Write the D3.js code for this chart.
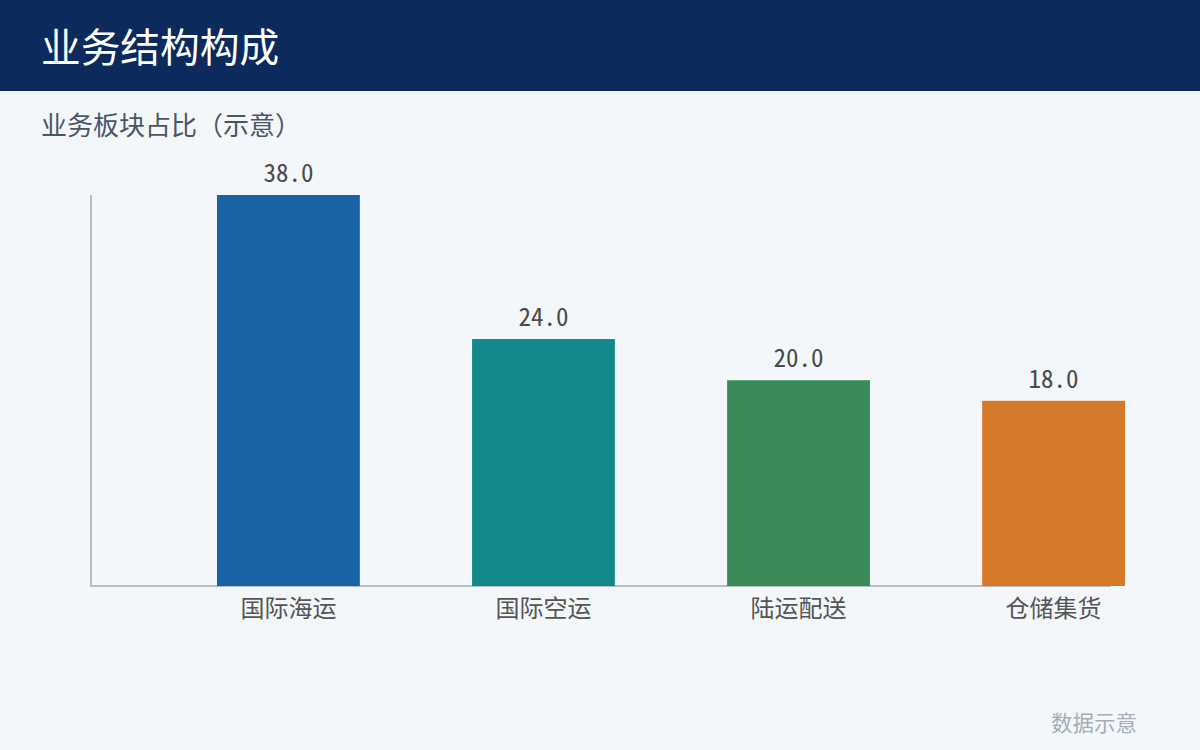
<!DOCTYPE html>
<html>
<head>
<meta charset="utf-8">
<script src="https://cdn.jsdelivr.net/npm/d3@7"></script>
<style>
  html, body { margin: 0; padding: 0; background: #f4f7fa; }
  svg { display: block; font-family: "Noto Sans CJK SC", "Noto Sans", sans-serif; }
</style>
</head>
<body>
<script>
var categories = ["国际海运", "国际空运", "陆运配送", "仓储集货"];
var values = [38, 24, 20, 18];
var barColors = ["#1763a3", "#128a8c", "#3a8b5a", "#d67829"];
var titleText = "业务结构构成";
var subtitleText = "业务板块占比（示意）";
var footText = "数据示意";

var width = 1200, height = 750;

var svg = d3.select("body").append("svg")
  .attr("width", width)
  .attr("height", height);

svg.append("rect")
  .attr("width", width).attr("height", height)
  .attr("fill", "#f4f7fa");

// header band
svg.append("rect")
  .attr("width", width).attr("height", 91)
  .attr("fill", "#0c2a5c");

svg.append("text")
  .attr("x", 41).attr("y", 62)
  .attr("fill", "#ffffff")
  .attr("font-size", 39.7)
  .text(titleText);

svg.append("text")
  .attr("x", 41).attr("y", 135)
  .attr("fill", "#4a5568")
  .attr("font-size", 26)
  .text(subtitleText);

var axisLeft = 91, axisRight = 1111, baseY = 586, topY = 195;

var x = d3.scaleBand()
  .domain(categories)
  .range([217, 1125])
  .paddingInner(0.44)
  .paddingOuter(0);

var y = d3.scaleLinear()
  .domain([0, d3.max(values)])
  .range([baseY, topY]);

// axes lines
svg.append("line")
  .attr("x1", axisLeft).attr("x2", axisLeft)
  .attr("y1", y(d3.max(values))).attr("y2", baseY + 1)
  .attr("stroke", "#b4bec8").attr("stroke-width", 2);

svg.append("line")
  .attr("x1", axisLeft).attr("x2", axisRight)
  .attr("y1", baseY).attr("y2", baseY)
  .attr("stroke", "#b4bec8").attr("stroke-width", 2);

svg.selectAll("rect.bar")
  .data(values)
  .enter().append("rect")
  .attr("class", "bar")
  .attr("x", function (d, i) { return x(categories[i]); })
  .attr("width", x.bandwidth())
  .attr("y", function (d) { return y(d); })
  .attr("height", function (d) { return baseY - y(d); })
  .attr("fill", function (d, i) { return barColors[i]; });

svg.selectAll("text.val")
  .data(values)
  .enter().append("text")
  .attr("class", "val")
  .attr("x", function (d, i) { return x(categories[i]) + x.bandwidth() / 2; })
  .attr("y", function (d) { return y(d) - 13; })
  .attr("text-anchor", "middle")
  .attr("fill", "#4a4a4a")
  .attr("font-size", 25)
  .attr("font-family", "'Noto Sans Mono CJK SC', 'Noto Sans CJK SC', monospace")
  .text(function (d) { return d.toFixed(1); });

svg.selectAll("text.cat")
  .data(categories)
  .enter().append("text")
  .attr("class", "cat")
  .attr("x", function (d) { return x(d) + x.bandwidth() / 2; })
  .attr("y", 617)
  .attr("text-anchor", "middle")
  .attr("fill", "#555555")
  .attr("font-size", 24)
  .text(function (d) { return d; });

svg.append("text")
  .attr("x", 1137).attr("y", 731)
  .attr("text-anchor", "end")
  .attr("fill", "#a4adb8")
  .attr("font-size", 21.5)
  .text(footText);
</script>
</body>
</html>
